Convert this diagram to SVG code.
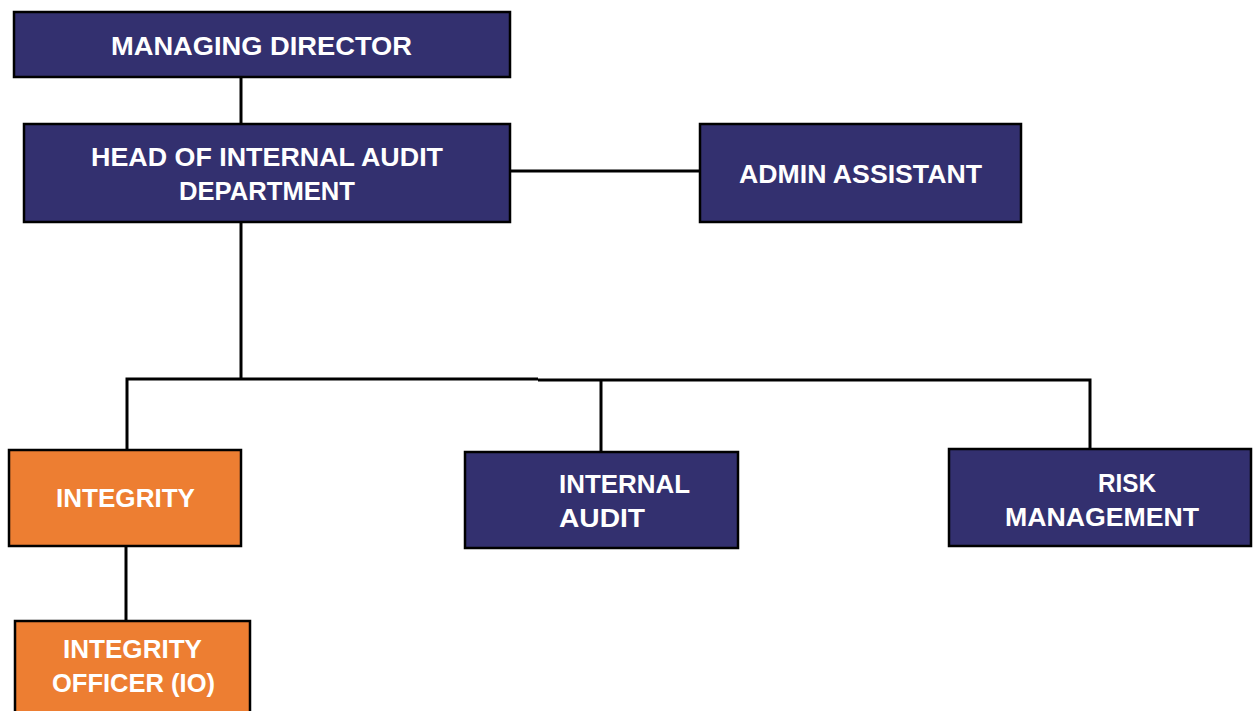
<svg xmlns="http://www.w3.org/2000/svg" width="1259" height="711" viewBox="0 0 1259 711">
<style>
.navy{fill:#33306F;stroke:#000;stroke-width:2.5}
.orange{fill:#ED7E32;stroke:#000;stroke-width:2.5}
.t{fill:#fff;font-family:"Liberation Sans",Arial,sans-serif;font-weight:bold;font-size:26px}
.c{fill:none;stroke:#000;stroke-width:3}
</style>
<rect width="1259" height="711" fill="#fff"/>
<g id="connectors">
<line class="c" x1="241" y1="77" x2="241" y2="124"/>
<line class="c" x1="510" y1="171" x2="700" y2="171"/>
<line class="c" x1="241" y1="222" x2="241" y2="379"/>
<polyline class="c" points="127,450 127,379 538,379"/>
<polyline class="c" points="538,380 1090,380 1090,449"/>
<line class="c" x1="601" y1="380" x2="601" y2="452"/>
<line class="c" x1="126" y1="546" x2="126" y2="621"/>
</g>
<g id="managing-director">
<rect class="navy" x="14" y="12" width="496" height="65"/>
<text class="t" x="111" y="55" textLength="301" lengthAdjust="spacingAndGlyphs">MANAGING DIRECTOR</text>
</g>
<g id="head-internal-audit">
<rect class="navy" x="24" y="124" width="486" height="98"/>
<text class="t" x="91" y="166" textLength="352" lengthAdjust="spacingAndGlyphs">HEAD OF INTERNAL AUDIT</text>
<text class="t" x="179" y="200" textLength="176" lengthAdjust="spacingAndGlyphs">DEPARTMENT</text>
</g>
<g id="admin-assistant">
<rect class="navy" x="700" y="124" width="321" height="98"/>
<text class="t" x="739" y="183" textLength="243" lengthAdjust="spacingAndGlyphs">ADMIN ASSISTANT</text>
</g>
<g id="integrity">
<rect class="orange" x="9" y="450" width="232" height="96"/>
<text class="t" x="56" y="507" textLength="139" lengthAdjust="spacingAndGlyphs">INTEGRITY</text>
</g>
<g id="integrity-officer">
<rect class="orange" x="15" y="621" width="235" height="95"/>
<text class="t" x="63" y="658" textLength="139" lengthAdjust="spacingAndGlyphs">INTEGRITY</text>
<text class="t" x="52" y="692" textLength="163" lengthAdjust="spacingAndGlyphs">OFFICER (IO)</text>
</g>
<g id="internal-audit">
<rect class="navy" x="465" y="452" width="273" height="96"/>
<text class="t" x="559" y="493" textLength="131" lengthAdjust="spacingAndGlyphs">INTERNAL</text>
<text class="t" x="559" y="527" textLength="86" lengthAdjust="spacingAndGlyphs">AUDIT</text>
</g>
<g id="risk-management">
<rect class="navy" x="949" y="449" width="302" height="97"/>
<text class="t" x="1098" y="492" textLength="58" lengthAdjust="spacingAndGlyphs">RISK</text>
<text class="t" x="1005" y="526" textLength="194" lengthAdjust="spacingAndGlyphs">MANAGEMENT</text>
</g>
</svg>
